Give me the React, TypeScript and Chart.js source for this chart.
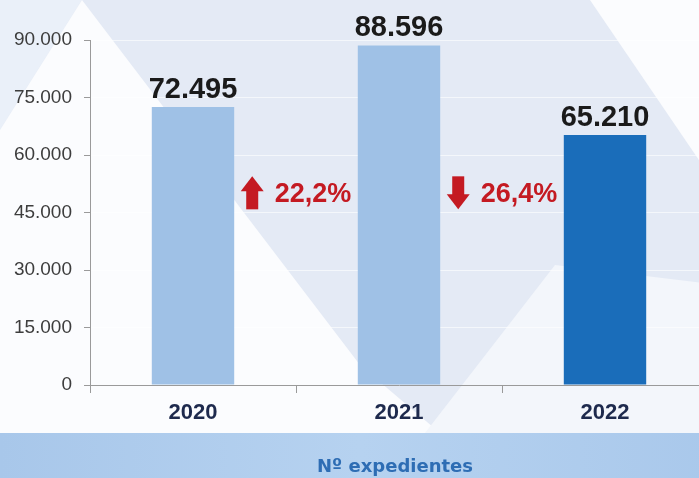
import React, { useEffect, useRef } from 'react';
import { Chart, registerables } from 'chart.js';

Chart.register(...registerables);

const categories = ['2020', '2021', '2022'];
const values = [72495, 88596, 65210];
const barColors = ['#9fc1e6', '#9fc1e6', '#1a6dba'];
const yTicks = [0, 15000, 30000, 45000, 60000, 75000, 90000];
const changeLabels = ['22,2%', '26,4%'];
const changeDirections = ['up', 'down'];
const axisTitle = 'Nº expedientes';

const FONT = '"Liberation Sans", Arial, sans-serif';

function fmt(v: number): string {
  return String(v).replace(/\B(?=(\d{3})+(?!\d))/g, '.');
}

function poly(ctx: CanvasRenderingContext2D, pts: number[][], color: string) {
  ctx.beginPath();
  ctx.moveTo(pts[0][0], pts[0][1]);
  for (let i = 1; i < pts.length; i++) ctx.lineTo(pts[i][0], pts[i][1]);
  ctx.closePath();
  ctx.fillStyle = color;
  ctx.fill();
}

const BAND_TOP = 433;

const backgroundPlugin = {
  id: 'bgDecor',
  beforeDraw(chart: any) {
    const { ctx, width, height } = chart;
    ctx.save();
    ctx.fillStyle = '#e4eaf5';
    ctx.fillRect(0, 0, width, height);
    poly(ctx, [[0, 0], [82, 0], [0, 130]], '#eaf0f9');
    poly(ctx, [[82, 0], [360, 365], [440, BAND_TOP], [0, BAND_TOP], [0, 130]], '#fbfcfe');
    poly(ctx, [[425, BAND_TOP], [555, 265], [720, 285], [720, BAND_TOP]], '#f3f6fb');
    poly(ctx, [[590, 0], [720, 0], [720, 191]], '#fbfcfe');
    const g = ctx.createLinearGradient(0, 0, width, 0);
    g.addColorStop(0, '#a8c7ea');
    g.addColorStop(0.5, '#b6d2f0');
    g.addColorStop(1, '#a9c8eb');
    ctx.fillStyle = g;
    ctx.fillRect(0, BAND_TOP, width, height - BAND_TOP);
    ctx.restore();
  },
  afterDraw(chart: any) {
    const { ctx, chartArea } = chart;
    ctx.save();
    ctx.font = 'bold 18px "DejaVu Sans", sans-serif';
    ctx.fillStyle = '#2e6db4';
    ctx.textAlign = 'center';
    ctx.textBaseline = 'middle';
    ctx.fillText(axisTitle, (chartArea.left + chartArea.right) / 2 - 4, 467);
    ctx.restore();
  },
};

const labelsPlugin = {
  id: 'valueLabels',
  afterDatasetsDraw(chart: any) {
    const { ctx } = chart;
    const meta = chart.getDatasetMeta(0);
    const yScale = chart.scales.y;
    ctx.save();
    ctx.font = `bold 29px ${FONT}`;
    ctx.fillStyle = '#1a1a1a';
    ctx.textAlign = 'center';
    ctx.textBaseline = 'alphabetic';
    meta.data.forEach((bar: any, i: number) => {
      ctx.fillText(fmt(values[i]), bar.x, bar.y - 9);
    });

    // change annotations between bars
    const cy = yScale.getPixelForValue(50000);
    ctx.font = `bold 27px ${FONT}`;
    ctx.textBaseline = 'middle';
    ctx.textAlign = 'left';
    changeLabels.forEach((txt, i) => {
      const b0 = meta.data[i];
      const b1 = meta.data[i + 1];
      const cx = (b0.x + b1.x) / 2;
      const tw = ctx.measureText(txt).width;
      const aw = 23;
      const gap = 11;
      const total = aw + gap + tw;
      const ax = cx - total / 2;
      const y0 = cy - 17;
      ctx.fillStyle = '#c41a22';
      if (changeDirections[i] === 'up') {
        ctx.beginPath();
        ctx.moveTo(ax, y0 + 15);
        ctx.lineTo(ax + aw / 2, y0);
        ctx.lineTo(ax + aw, y0 + 15);
        ctx.closePath();
        ctx.fill();
        ctx.fillRect(ax + aw / 2 - 6, y0 + 14, 12, 19);
      } else {
        ctx.fillRect(ax + aw / 2 - 6, y0, 12, 19);
        ctx.beginPath();
        ctx.moveTo(ax, y0 + 18);
        ctx.lineTo(ax + aw, y0 + 18);
        ctx.lineTo(ax + aw / 2, y0 + 33);
        ctx.closePath();
        ctx.fill();
      }
      ctx.fillText(txt, ax + aw + gap, cy + 1);
    });
    ctx.restore();
  },
};

export default function App() {
  const ref = useRef<HTMLCanvasElement | null>(null);
  useEffect(() => {
    if (!ref.current) return;
    const chart = new Chart(ref.current, {
      type: 'bar',
      data: {
        labels: categories,
        datasets: [
          {
            data: values,
            backgroundColor: barColors,
            borderWidth: 0,
            barPercentage: 0.4,
            categoryPercentage: 1.0,
          },
        ],
      },
      options: {
        animation: false,
        responsive: false,
        maintainAspectRatio: false,
        layout: { padding: { top: 40, right: 12, left: 0, bottom: 0 } },
        plugins: { legend: { display: false }, tooltip: { enabled: false } },
        scales: {
          x: {
            grid: { drawOnChartArea: false, tickLength: 8, tickColor: '#9a9a9a', offset: true },
            border: { color: '#9a9a9a' },
            ticks: { font: { family: FONT, size: 22, weight: 'bold' }, color: '#1e2a4d', padding: 7 },
            afterFit(s: any) {
              s.height = 93;
            },
          },
          y: {
            min: 0,
            max: 90000,
            afterBuildTicks(s: any) {
              s.ticks = yTicks.map((v) => ({ value: v }));
            },
            ticks: {
              callback: (v: any) => fmt(Number(v)),
              font: { family: FONT, size: 19 },
              color: '#3d3d3d',
              padding: 12,
            },
            grid: { color: 'rgba(255,255,255,0.6)', tickColor: '#9a9a9a', tickLength: 6 },
            border: { color: '#9a9a9a' },
            afterFit(s: any) {
              s.width = 90;
            },
          },
        },
      },
      plugins: [backgroundPlugin, labelsPlugin],
    } as any);
    return () => chart.destroy();
  }, []);
  return (
    <div style={{ position: 'fixed', left: 0, top: 0, width: 699, height: 478, overflow: 'hidden' }}>
      <canvas ref={ref} width={720} height={478} style={{ display: 'block', width: 720, height: 478 }} />
    </div>
  );
}
